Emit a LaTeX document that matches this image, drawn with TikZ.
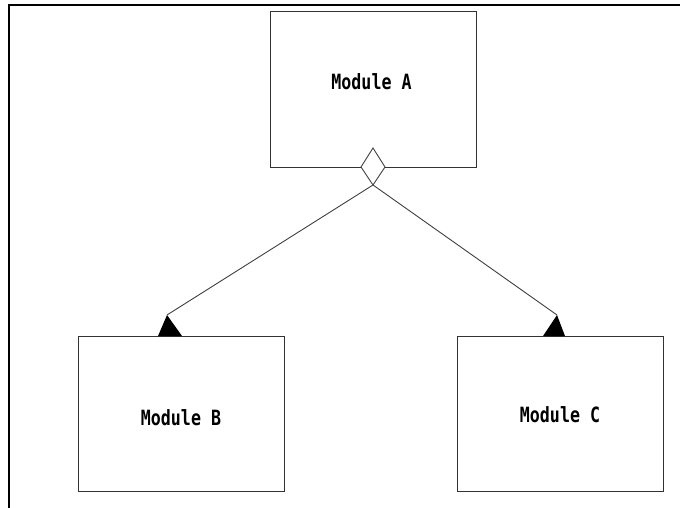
\documentclass[tikz,border=0pt]{standalone}
\usepackage{fontspec}
\usepackage{graphicx}
\newfontfamily\modfont{DejaVu Sans Mono}
\newcommand{\modtext}[1]{\scalebox{0.95}[1.2]{#1}}
\begin{document}
\begin{tikzpicture}[x=1pt,y=-1pt,
  modbox/.style={draw=black!80,line width=1pt,minimum width=206pt,minimum height=155pt,inner sep=0pt,fill=white},
  lbl/.style={font=\modfont\bfseries\fontsize{17.5pt}{20pt}\selectfont,inner sep=0pt,text=black},
  conn/.style={draw=black!75,line width=0.9pt},
  dia/.style={draw=black!75,line width=0.9pt,fill=white},
  tipfill/.style={fill=black}]
\useasboundingbox (0,0) rectangle (680,508);
\fill[white] (0,0) rectangle (680,508);
% frame
\draw[line width=2pt,line join=miter] (9,508) -- (9,5) -- (680,5);
% boxes
\node[modbox] (A) at (373,89.5) {};
\node[modbox] (B) at (181,414) {};
\node[modbox] (C) at (560,414) {};
\node[lbl] (tA) at (371.5,82) {\modtext{Module A}};
\node[lbl] (tB) at (181,418) {\modtext{Module B}};
\node[lbl] (tC) at (560,415) {\modtext{Module C}};
% diamond
\coordinate (dtop) at (373,148);
\coordinate (dleft) at (361,167);
\coordinate (dbot) at (373,185);
\coordinate (dright) at (385,167);
\draw[dia] (dtop) -- (dright) -- (dbot) -- (dleft) -- cycle;
% arrow tips
\coordinate (tipB) at (167,315);
\coordinate (tipC) at (557,315);
\coordinate (bBl) at (158,336);
\coordinate (bBr) at (182,336);
\coordinate (bCl) at (543,336);
\coordinate (bCr) at (565,336);
\draw[conn] (dbot) -- (tipB);
\draw[conn] (dbot) -- (tipC);
\fill[tipfill] (tipB) -- (bBr) -- (bBl) -- cycle;
\fill[tipfill] (tipC) -- (bCr) -- (bCl) -- cycle;
\end{tikzpicture}
\end{document}
